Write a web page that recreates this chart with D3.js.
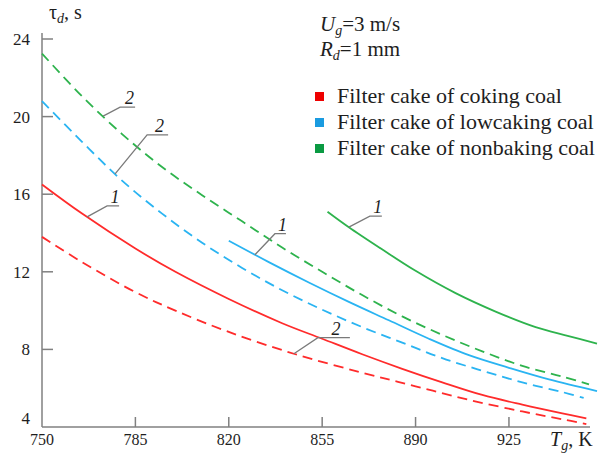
<!DOCTYPE html>
<head>
  <meta charset="utf-8">
  <script src="https://d3js.org/d3.v7.min.js"></script>
  <style>
    body { margin: 0; background: white; }
    svg { font-family: "Liberation Serif", "Times New Roman", serif; }
    text { fill: #1e1e1e; }
  </style>
</head>
<body>
<script>
// tick values
const tempTicks = [750, 785, 820, 855, 890, 925];
const tauTicks = [4, 8, 12, 16, 20, 24];

// curves, [Tg (K), tau_d (s)]; 1 = solid, 2 = dashed
const cokingCurve1 = [[750,16.5],[765,15.0],[785,13.2],[800,12.0],[820,10.6],[840,9.35],[855,8.55],[870,7.75],[885,7.0],[900,6.3],[915,5.65],[930,5.15],[945,4.7],[954,4.45]];
const cokingCurve2 = [[750,13.8],[765,12.5],[785,10.95],[800,10.0],[820,8.9],[845,7.75],[870,6.8],[890,6.1],[910,5.4],[930,4.8],[945,4.4],[954,4.15]];
const lowcakingCurve1 = [[820,13.6],[835,12.5],[850,11.45],[865,10.45],[880,9.5],[895,8.55],[910,7.7],[925,7.05],[940,6.45],[958,5.85]];
const lowcakingCurve2 = [[750,20.8],[765,18.7],[780,16.7],[795,15.0],[810,13.5],[825,12.2],[840,11.05],[855,10.05],[870,9.15],[885,8.35],[900,7.55],[915,6.9],[930,6.3],[945,5.8],[953,5.5]];
const nonbakingCurve1 = [[857,15.1],[865,14.3],[877,13.2],[890,12.05],[905,10.9],[920,9.95],[935,9.15],[947,8.7],[958,8.3]];
const nonbakingCurve2 = [[750,23.25],[765,21.05],[780,19.1],[795,17.4],[810,15.95],[825,14.6],[840,13.25],[855,12.0],[870,10.8],[885,9.7],[900,8.75],[915,7.9],[930,7.15],[945,6.6],[955,6.2]];

const legendLabels = ["Filter cake of coking coal", "Filter cake of lowcaking coal", "Filter cake of nonbaking coal"];
const lineColors = ["#ff2b2b", "#2ab4f2", "#2eb34d"];
const swatchColors = ["#ee0000", "#1a9be0", "#0a9a42"];

const curves = [
  { data: cokingCurve1, c: 0, dashed: false },
  { data: cokingCurve2, c: 0, dashed: true },
  { data: lowcakingCurve1, c: 1, dashed: false },
  { data: lowcakingCurve2, c: 1, dashed: true },
  { data: nonbakingCurve1, c: 2, dashed: false },
  { data: nonbakingCurve2, c: 2, dashed: true }
];

// curve labels: which curve, Tg where the leader touches it, leader shape
const notes = [
  { curve: 0, t: 766.9, text: "1", dx: 20, dy: -11, len: 12 },
  { curve: 1, t: 844.4, text: "2", dx: 24, dy: -16, len: 32 },
  { curve: 2, t: 829.8, text: "1", dx: 20, dy: -21, len: 11 },
  { curve: 3, t: 777.4, text: "2", dx: 32, dy: -39, len: 21 },
  { curve: 4, t: 865, text: "1", dx: 21, dy: -11, len: 12 },
  { curve: 5, t: 772.9, text: "2", dx: 17, dy: -9, len: 15 }
];

const width = 601, height = 454;
const svg = d3.select("body").append("svg").attr("width", width).attr("height", height);

const x = d3.scaleLinear().domain([750, 955]).range([42, 589]);
const y = d3.scaleLinear().domain([4, 24]).range([427, 39]);

// axes
svg.append("line").attr("x1", x(750)).attr("x2", x(750)).attr("y1", 33).attr("y2", y(4))
  .attr("stroke", "#808080").attr("stroke-width", 1.5);
svg.append("line").attr("x1", x(750)).attr("x2", 590).attr("y1", y(4)).attr("y2", y(4))
  .attr("stroke", "#808080").attr("stroke-width", 1.5);

svg.selectAll(".ytick").data(tauTicks.filter(d => d > 4)).enter().append("line")
  .attr("x1", x(750)).attr("x2", x(750) + 11)
  .attr("y1", d => y(d)).attr("y2", d => y(d))
  .attr("stroke", "#808080").attr("stroke-width", 1.5);
svg.selectAll(".ylab").data(tauTicks).enter().append("text")
  .attr("x", 30).attr("y", d => y(d) + (d === 4 ? -3 : 6))
  .attr("text-anchor", "end").attr("font-size", 17).text(d => d);

svg.selectAll(".xtick").data(tempTicks.filter(d => d > 750)).enter().append("line")
  .attr("x1", d => x(d)).attr("x2", d => x(d))
  .attr("y1", y(4)).attr("y2", y(4) - 10)
  .attr("stroke", "#808080").attr("stroke-width", 1.5);
svg.selectAll(".xlab").data(tempTicks).enter().append("text")
  .attr("x", d => x(d)).attr("y", 445)
  .attr("text-anchor", "middle").attr("font-size", 16).text(d => d);

// axis titles
const ylab = svg.append("text").attr("x", 49).attr("y", 19).attr("font-size", 20);
ylab.append("tspan").text("τ");
ylab.append("tspan").attr("font-style", "italic").attr("font-size", 14).attr("dy", 4).text("d");
ylab.append("tspan").attr("dy", -4).text(", s");

const xlab = svg.append("text").attr("x", 550).attr("y", 446).attr("font-size", 20);
xlab.append("tspan").attr("font-style", "italic").text("T");
xlab.append("tspan").attr("font-style", "italic").attr("font-size", 14).attr("dy", 4).text("g");
xlab.append("tspan").attr("dy", -4).text(", K");

// conditions
const c1 = svg.append("text").attr("x", 320).attr("y", 31).attr("font-size", 21);
c1.append("tspan").attr("font-style", "italic").text("U");
c1.append("tspan").attr("font-style", "italic").attr("font-size", 14).attr("dy", 4).text("g");
c1.append("tspan").attr("dy", -4).text("=3 m/s");
const c2 = svg.append("text").attr("x", 320).attr("y", 56).attr("font-size", 21);
c2.append("tspan").attr("font-style", "italic").text("R");
c2.append("tspan").attr("font-style", "italic").attr("font-size", 14).attr("dy", 4).text("d");
c2.append("tspan").attr("dy", -4).text("=1 mm");

// curves
const line = d3.line().x(d => x(d[0])).y(d => y(d[1])).curve(d3.curveCatmullRom.alpha(0.5));
svg.selectAll(".curve").data(curves).enter().append("path")
  .attr("d", d => line(d.data))
  .attr("fill", "none")
  .attr("stroke", d => lineColors[d.c])
  .attr("stroke-width", 1.8)
  .attr("stroke-dasharray", d => d.dashed ? "10,6" : null);

// leaders with curve numbers
function tauAt(data, t) {
  for (let i = 1; i < data.length; i++) {
    if (t <= data[i][0]) {
      const a = data[i - 1], b = data[i];
      return a[1] + (b[1] - a[1]) * (t - a[0]) / (b[0] - a[0]);
    }
  }
  return data[data.length - 1][1];
}
notes.forEach(n => {
  const px = x(n.t), py = y(tauAt(curves[n.curve].data, n.t));
  svg.append("polyline")
    .attr("points", [[px, py], [px + n.dx, py + n.dy], [px + n.dx + n.len, py + n.dy]].join(" "))
    .attr("fill", "none").attr("stroke", "#7a7a7a").attr("stroke-width", 1.3);
  svg.append("text")
    .attr("x", px + n.dx + n.len / 2 + 2).attr("y", py + n.dy - 3)
    .attr("text-anchor", "middle").attr("font-size", 18).attr("font-style", "italic")
    .text(n.text);
});

// legend
const lg = svg.selectAll(".lg").data(legendLabels).enter().append("g")
  .attr("transform", (d, i) => `translate(315, ${97 + i * 26})`);
lg.append("rect").attr("x", 0).attr("y", -5).attr("width", 9).attr("height", 9)
  .attr("fill", (d, i) => swatchColors[i]);
lg.append("text").attr("x", 22).attr("y", 6).attr("font-size", 22).text(d => d);
</script>
</body>
